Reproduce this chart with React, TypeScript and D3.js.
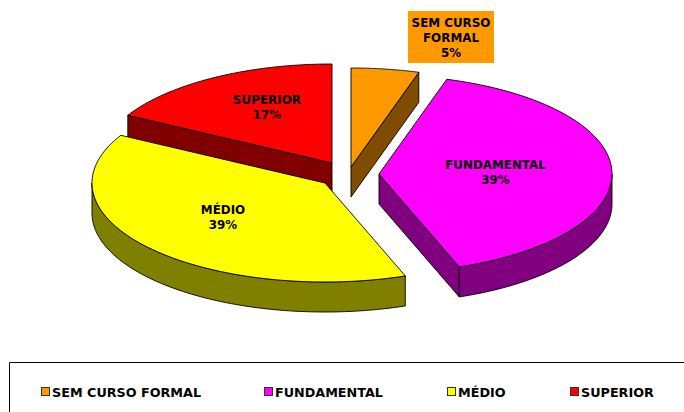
import React from "react";
import * as d3 from "d3";

const categories = ["SEM CURSO FORMAL", "FUNDAMENTAL", "MÉDIO", "SUPERIOR"];
const shares = [4.7, 39.7, 38.6, 17];
const shownPercents = ["5%", "39%", "39%", "17%"];
const topColors = ["#ff9900", "#ff00ff", "#ffff00", "#ff0000"];
const sideColors = ["#804d00", "#800080", "#808000", "#800000"];
const apexes: [number, number][] = [[351, 167], [379, 174], [325, 183], [332, 163]];
const labelNames = [["SEM CURSO", "FORMAL"], ["FUNDAMENTAL"], ["MÉDIO"], ["SUPERIOR"]];
const labelPos: [number, number][] = [[451, 26.5], [495.5, 169], [223, 213.5], [267, 103.5]];
const legendX = [41, 264, 447, 570];

const RX = 233, RY = 99, DEPTH = 30;
const font = "'DejaVu Sans', Verdana, sans-serif";

const arcs = d3.pie<number>().sort(null)(shares);
const lineGen = d3.line();
const pt = (c: [number, number], a: number, dy = 0): [number, number] => [
  c[0] + RX * Math.sin(a),
  c[1] - RY * Math.cos(a) + dy,
];
const sample = (c: [number, number], a0: number, a1: number, dy = 0) =>
  d3.range(0, 81).map((i) => pt(c, a0 + ((a1 - a0) * i) / 80, dy));

function topPath(i: number) {
  const c = apexes[i];
  return lineGen([c, ...sample(c, arcs[i].startAngle, arcs[i].endAngle)]) + "Z";
}
function outerWall(i: number, a0: number, a1: number) {
  const c = apexes[i];
  const upper = sample(c, a0, a1);
  const lower = sample(c, a0, a1, DEPTH).reverse();
  return lineGen([...upper, ...lower]) + "Z";
}
function cutWall(i: number, a: number) {
  const c = apexes[i];
  const p = pt(c, a);
  return lineGen([c, p, [p[0], p[1] + DEPTH], [c[0], c[1] + DEPTH]]) + "Z";
}

export default function App() {
  const stroke = { stroke: "#000", strokeWidth: 0.9, strokeLinejoin: "round" as const };
  const slice = (i: number, walls: string[]) => (
    <g key={i}>
      {walls.map((d, k) => <path key={k} d={d} fill={sideColors[i]} {...stroke} />)}
      <path d={topPath(i)} fill={topColors[i]} {...stroke} />
    </g>
  );
  return (
    <svg width={684} height={412} style={{ position: "absolute", left: 0, top: 0 }}>
      <rect width={684} height={412} fill="#fff" />
      {slice(3, [cutWall(3, arcs[3].startAngle)])}
      {slice(0, [cutWall(0, arcs[0].endAngle)])}
      {slice(1, [cutWall(1, arcs[1].endAngle), outerWall(1, Math.PI / 2, arcs[1].endAngle)])}
      {slice(2, [outerWall(2, arcs[2].startAngle, 1.5 * Math.PI)])}
      <rect x={408} y={11} width={86} height={52} fill={topColors[0]} />
      {labelNames.map((names, i) => (
        <text key={i} textAnchor="middle" fontFamily={font} fontWeight="bold" fontSize={11.9} fill="#000">
          {[...names, shownPercents[i]].map((l, k) => (
            <tspan key={k} x={labelPos[i][0]} y={labelPos[i][1] + k * 15.3}>{l}</tspan>
          ))}
        </text>
      ))}
      <path d="M684.5,362.5H9.5V412" fill="none" stroke="#000" strokeWidth={1} />
      {categories.map((c, i) => (
        <g key={c}>
          <rect x={legendX[i] + 0.5} y={387.5} width={8} height={8} fill={topColors[i]} stroke="#333" strokeWidth={1} />
          <text x={legendX[i] + 11} y={397} fontFamily={font} fontWeight="bold" fontSize={12.75} fill="#000">{c}</text>
        </g>
      ))}
    </svg>
  );
}
